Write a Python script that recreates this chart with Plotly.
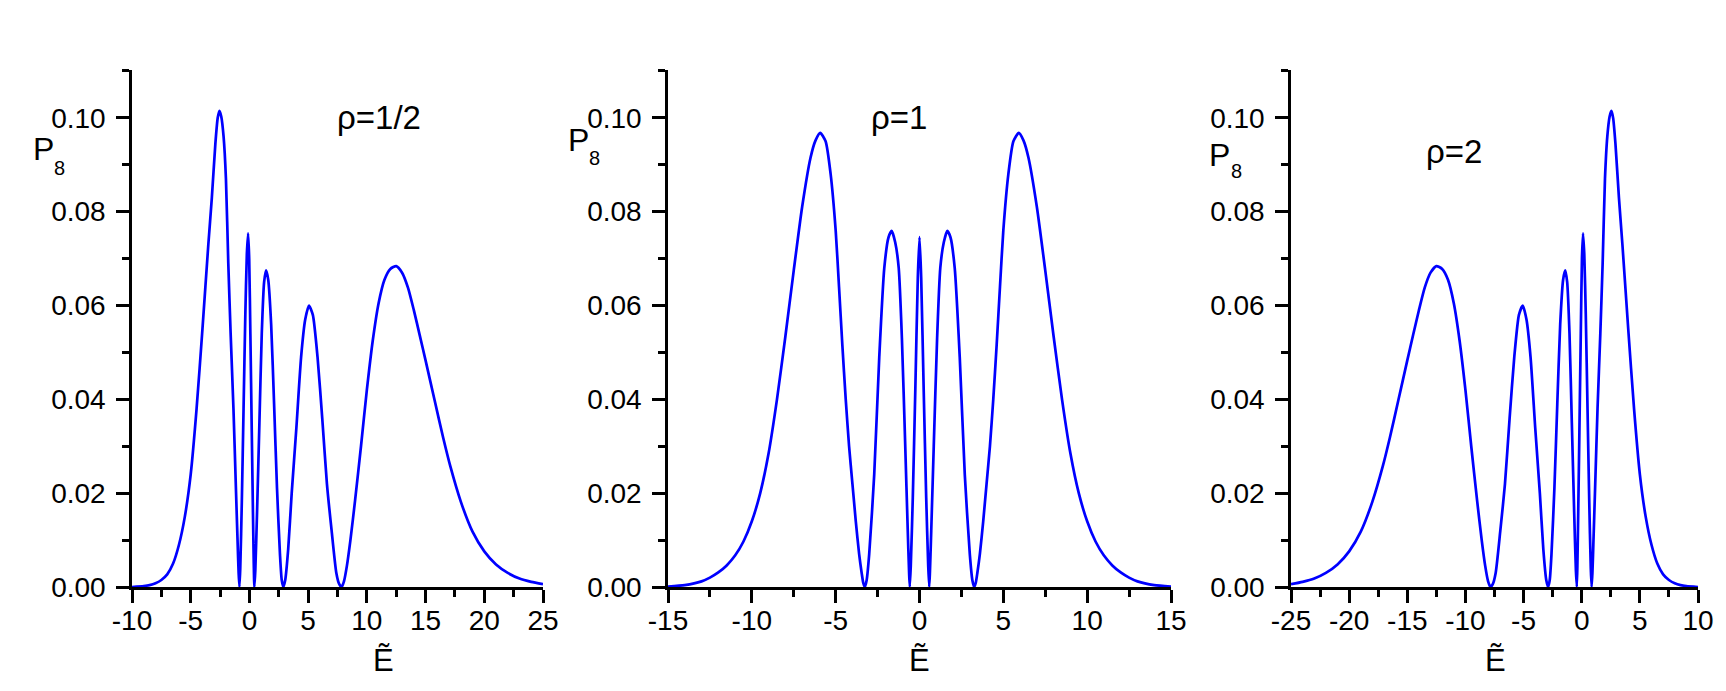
import plotly.graph_objects as go

# ---------------- data ----------------
# panel 1 : rho = 1/2
E_half = [-10, -9, -8.5, -8, -7.5, -7, -6.5, -6, -5.5, -5, -4.5, -4, -3.5, -3.2, -2.9, -2.7, -2.55,
          -2.4, -2.2, -2.0, -1.8, -1.6, -1.36, -1.15, -1.0, -0.92, -0.85,
          -0.78, -0.65, -0.5, -0.35, -0.22, -0.11, -0.02, 0.08, 0.2, 0.3, 0.37, 0.42,
          0.5, 0.65, 0.85, 1.05, 1.25, 1.42, 1.6, 1.85, 2.1, 2.35, 2.6, 2.75, 2.89,
          3.05, 3.3, 3.6, 4.0, 4.4, 4.75, 5.07, 5.4, 5.8, 6.2, 6.6, 7.0, 7.4, 7.65, 7.85,
          8.05, 8.3, 8.6, 9.0, 9.5, 10.0, 10.5, 11.0, 11.5, 12.0, 12.5, 13.0, 13.5, 14.0, 14.5,
          15.0, 15.77, 16.5, 17.1, 18.0, 19.0, 20.0, 21.0, 22.0, 23.0, 24.0, 25.0]
P_half = [0.0000, 0.0002, 0.0004, 0.0008, 0.0015, 0.0027, 0.0050, 0.0090, 0.0150, 0.0240, 0.0380, 0.0550,
          0.0730, 0.0830, 0.0945, 0.1000, 0.1015,
          0.1003, 0.0960, 0.0870, 0.0690, 0.0540, 0.0380, 0.0210, 0.0090, 0.0030, 0.0000,
          0.0040, 0.0180, 0.0380, 0.0580, 0.0710, 0.0754, 0.0700, 0.0540, 0.0330, 0.0160, 0.0050, 0.0000,
          0.0035, 0.0160, 0.0350, 0.0540, 0.0650, 0.0675, 0.0655, 0.0560, 0.0390, 0.0210, 0.0070, 0.0015, 0.0000,
          0.0015, 0.0080, 0.0200, 0.0340, 0.0490, 0.0570, 0.0600, 0.0580, 0.0490, 0.0360, 0.0220, 0.0120,
          0.0030, 0.0006, 0.0000,
          0.0012, 0.0045, 0.0100, 0.0185, 0.0300, 0.0420, 0.0525, 0.0605, 0.0655, 0.0678, 0.0684, 0.0670,
          0.0638, 0.0590, 0.0537,
          0.0483, 0.0398, 0.0318, 0.0258, 0.0182, 0.0118, 0.0076, 0.0048, 0.0030, 0.0018, 0.0011, 0.0006]

# panel 2 : rho = 1
E_one = [-15, -14, -13, -12.5, -12, -11.5, -11, -10.5, -10, -9.5, -9, -8.5, -8, -7.5, -7, -6.5, -6.2, -5.92,
         -5.6, -5.3, -5.0, -4.8, -4.6, -4.4, -4.2, -4.0, -3.8, -3.6, -3.45, -3.35, -3.26,
         -3.15, -3.0, -2.7, -2.4, -2.1, -1.85,
         -1.66, -1.45, -1.24, -1.05, -0.85, -0.7, -0.62, -0.58, -0.52, -0.4, -0.25, -0.1, 0.0,
         0.1, 0.25, 0.4, 0.52, 0.58, 0.62, 0.7, 0.85, 1.05, 1.24, 1.45, 1.66, 1.85, 2.1, 2.4, 2.7, 3.0,
         3.15, 3.26, 3.35, 3.45, 3.6, 3.8, 4.0, 4.2, 4.4, 4.6, 4.8, 5.0, 5.3, 5.6, 5.92, 6.2, 6.5,
         7, 7.5, 8, 8.5, 9, 9.5, 10, 10.5, 11, 11.5, 12, 12.5, 13, 14, 15]
P_one = [0.0001, 0.0004, 0.0012, 0.0020, 0.0031, 0.0046, 0.0067, 0.0097, 0.0140, 0.0200, 0.0285, 0.0400,
         0.0534, 0.0675, 0.0810, 0.0915, 0.0952, 0.0968,
         0.0950, 0.0880, 0.0760, 0.0640, 0.0515, 0.0400, 0.0300, 0.0220, 0.0140, 0.0070, 0.0030, 0.0008, 0.0000,
         0.0015, 0.0070, 0.0240, 0.0490, 0.0680, 0.0745,
         0.0759, 0.0735, 0.0680, 0.0530, 0.0300, 0.0120, 0.0030, 0.0000, 0.0045, 0.0190, 0.0420, 0.0660, 0.0746,
         0.0660, 0.0420, 0.0190, 0.0045, 0.0000, 0.0030, 0.0120, 0.0300, 0.0530, 0.0680, 0.0735, 0.0759,
         0.0745, 0.0680, 0.0490, 0.0240, 0.0070,
         0.0015, 0.0000, 0.0008, 0.0030, 0.0070, 0.0140, 0.0220, 0.0300, 0.0400, 0.0515, 0.0640, 0.0760,
         0.0880, 0.0950, 0.0968, 0.0952, 0.0915,
         0.0810, 0.0675, 0.0534, 0.0400, 0.0285, 0.0200, 0.0140, 0.0097, 0.0067, 0.0046, 0.0031, 0.0020,
         0.0012, 0.0004, 0.0001]

# panel 3 : rho = 2
E_two = [-25, -24, -23, -22, -21, -20, -19, -18.0, -17.1, -16.5, -15.77, -15.0, -14.5, -14.0, -13.5, -13.0,
         -12.5, -12.0, -11.5, -11.0, -10.5, -10.0, -9.5, -9.0, -8.6, -8.3, -8.05, -7.85,
         -7.65, -7.4, -7.0, -6.6, -6.2, -5.8, -5.4, -5.07, -4.75, -4.4, -4.0, -3.6, -3.3, -3.05, -2.89,
         -2.75, -2.6, -2.35, -2.1, -1.85, -1.6, -1.42, -1.25, -1.05, -0.85, -0.65, -0.5, -0.42,
         -0.37, -0.3, -0.2, -0.08, 0.02, 0.11, 0.22, 0.35, 0.5, 0.65, 0.78, 0.85,
         0.92, 1.0, 1.15, 1.36, 1.6, 1.8, 2.0, 2.2, 2.4, 2.55, 2.7, 2.9, 3.2, 3.5, 4, 4.5, 5, 5.5, 6,
         6.5, 7, 7.5, 8, 8.5, 9, 10]
P_two = [0.0006, 0.0011, 0.0018, 0.0030, 0.0048, 0.0076, 0.0118, 0.0182, 0.0258, 0.0318, 0.0398, 0.0483,
         0.0537, 0.0590, 0.0638, 0.0670,
         0.0684, 0.0678, 0.0655, 0.0605, 0.0525, 0.0420, 0.0300, 0.0185, 0.0100, 0.0045, 0.0012, 0.0000,
         0.0006, 0.0030, 0.0120, 0.0220, 0.0360, 0.0490, 0.0580, 0.0600, 0.0570, 0.0490, 0.0340, 0.0200,
         0.0080, 0.0015, 0.0000,
         0.0015, 0.0070, 0.0210, 0.0390, 0.0560, 0.0655, 0.0675, 0.0650, 0.0540, 0.0350, 0.0160, 0.0035, 0.0000,
         0.0050, 0.0160, 0.0330, 0.0540, 0.0700, 0.0754, 0.0710, 0.0580, 0.0380, 0.0180, 0.0040, 0.0000,
         0.0030, 0.0090, 0.0210, 0.0380, 0.0540, 0.0690, 0.0870, 0.0960, 0.1003, 0.1015, 0.1000, 0.0945,
         0.0830, 0.0730, 0.0550, 0.0380, 0.0240, 0.0150, 0.0090,
         0.0050, 0.0027, 0.0015, 0.0008, 0.0004, 0.0002, 0.0000]

panel_labels = ["ρ=1/2", "ρ=1", "ρ=2"]
x_ranges = [[-10, 25], [-15, 15], [-25, 10]]
x_tickvals = [[-10, -5, 0, 5, 10, 15, 20, 25],
              [-15, -10, -5, 0, 5, 10, 15],
              [-25, -20, -15, -10, -5, 0, 5, 10]]
x_ticktext = [["-10", "-5", "0", "5", "10", "15", "20", "25"],
              ["-15", "-10", "-5", "0", "5", "10", "15"],
              ["-25", "-20", "-15", "-10", "-5", "0", "5", "10"]]
y_tickvals = [0.00, 0.02, 0.04, 0.06, 0.08, 0.10]
y_ticktext = ["0.00", "0.02", "0.04", "0.06", "0.08", "0.10"]

# ---------------- figure ----------------
W, H = 1726, 691
FONT = "Liberation Sans, Arial, sans-serif"
BLUE = "#0000FF"
TICKSIZE = 28

x_px = [(132, 543), (668, 1171), (1291, 1698)]
y_px = (587, 70)


def px2paper_x(px):
    return px / W


def px2paper_y(py):
    return 1 - py / H


fig = go.Figure()
series = [(E_half, P_half), (E_one, P_one), (E_two, P_two)]
for i, (ex, py) in enumerate(series):
    s = "" if i == 0 else str(i + 1)
    fig.add_trace(go.Scatter(x=ex, y=py, mode="lines",
                             line=dict(color=BLUE, width=2.7, shape="spline", smoothing=0.6),
                             xaxis="x" + s, yaxis="y" + s, showlegend=False, hoverinfo="skip"))

layout = dict(template="none", width=W, height=H, margin=dict(l=0, r=0, t=0, b=0, pad=0),
              paper_bgcolor="white", plot_bgcolor="white",
              font=dict(family=FONT, size=TICKSIZE, color="black"), showlegend=False)

for i in range(3):
    s = "" if i == 0 else str(i + 1)
    layout["xaxis" + s] = dict(
        domain=[px2paper_x(x_px[i][0]), px2paper_x(x_px[i][1])],
        range=x_ranges[i], anchor="y" + s, automargin=False,
        tickmode="array", tickvals=x_tickvals[i], ticktext=x_ticktext[i],
        ticks="outside", ticklen=13, tickwidth=2.5, tickcolor="black",
        showline=True, linecolor="black", linewidth=2.5,
        showgrid=False, zeroline=False, ticklabelstandoff=-6,
        tickfont=dict(family=FONT, size=TICKSIZE, color="black"),
        minor=dict(tickmode="linear", tick0=0, dtick=2.5, ticks="outside", ticklen=7,
                   tickwidth=2.5, tickcolor="black", showgrid=False),
    )
    layout["yaxis" + s] = dict(
        domain=[px2paper_y(y_px[0]), px2paper_y(y_px[1])],
        range=[0, 0.1102], anchor="x" + s, automargin=False,
        tickmode="array", tickvals=y_tickvals, ticktext=y_ticktext,
        ticks="outside", ticklen=13, tickwidth=2.5, tickcolor="black",
        showline=True, linecolor="black", linewidth=2.5,
        showgrid=False, zeroline=False, ticklabelstandoff=5,
        tickfont=dict(family=FONT, size=TICKSIZE, color="black"),
        minor=dict(tickmode="linear", tick0=0, dtick=0.01, ticks="outside", ticklen=7,
                   tickwidth=2.5, tickcolor="black", showgrid=False),
    )

annotations = []
# panel labels (data coords)
label_pos = [(11.0, 0.1000), (-1.2, 0.1000), (-11.0, 0.0928)]
for i in range(3):
    s = "" if i == 0 else str(i + 1)
    annotations.append(dict(x=label_pos[i][0], y=label_pos[i][1], xref="x" + s, yref="y" + s,
                            text=panel_labels[i], showarrow=False,
                            font=dict(family=FONT, size=33, color="black"),
                            xanchor="center", yanchor="middle"))

# y-axis titles  P_8
p_pos = [(43, 149.5, 59, 167.5), (578, 140, 594, 158), (1219, 155, 1236, 171)]
for (px, py, sx, sy) in p_pos:
    annotations.append(dict(x=px2paper_x(px), y=px2paper_y(py), xref="paper", yref="paper",
                            text="P", showarrow=False, font=dict(family=FONT, size=32, color="black"),
                            xanchor="center", yanchor="middle"))
    annotations.append(dict(x=px2paper_x(sx), y=px2paper_y(sy), xref="paper", yref="paper",
                            text="8", showarrow=False, font=dict(family=FONT, size=20, color="black"),
                            xanchor="center", yanchor="middle"))

# x-axis titles  E~
e_pos = [383, 919.5, 1495]
for ex in e_pos:
    annotations.append(dict(x=px2paper_x(ex), y=px2paper_y(660), xref="paper", yref="paper",
                            text="Ẽ", showarrow=False, font=dict(family=FONT, size=31, color="black"),
                            xanchor="center", yanchor="middle"))

layout["annotations"] = annotations
fig.update_layout(**layout)
fig.write_html("out.html", config={"displayModeBar": False},
               post_script="document.body.style.margin='0';document.body.style.padding='0';"
                           "document.body.style.overflow='hidden';")
